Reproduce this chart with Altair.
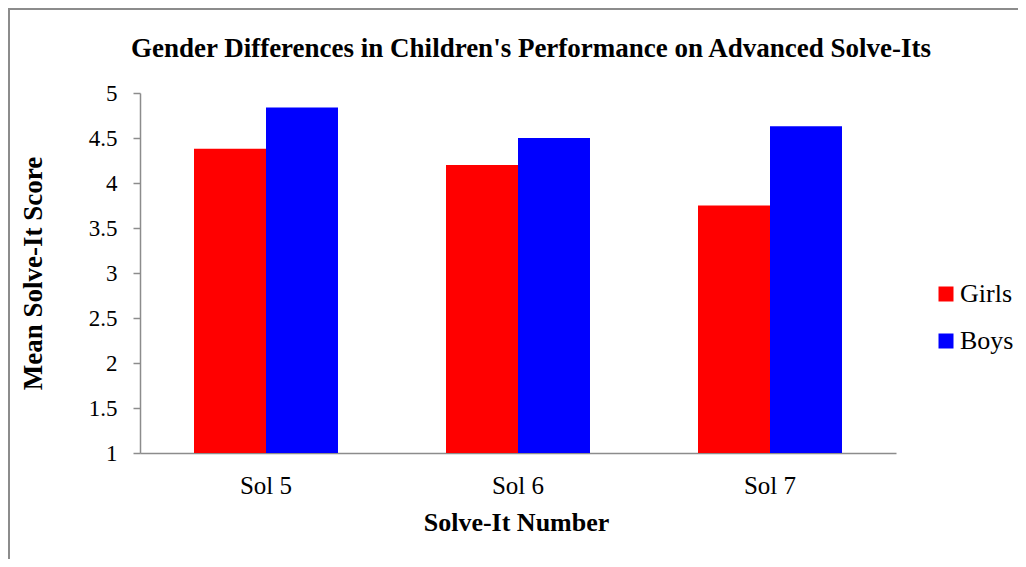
import altair as alt
import pandas as pd

categories = ["Sol 5", "Sol 6", "Sol 7"]
girls = [4.38, 4.20, 3.75]
boys = [4.84, 4.50, 4.63]
groups = ["Girls", "Boys"]
colors = ["#ff0000", "#0000ff"]
y_ticks = [1, 1.5, 2, 2.5, 3, 3.5, 4, 4.5, 5]
title_text = "Gender Differences in Children's Performance on Advanced Solve-Its"

rows = []
for c, g, b in zip(categories, girls, boys):
    rows.append({"cat": c, "grp": "Girls", "val": g})
    rows.append({"cat": c, "grp": "Boys", "val": b})
df = pd.DataFrame(rows)

SERIF = "Liberation Serif"
GRAY = "#8c8c8c"

bars = alt.Chart(df).mark_bar().encode(
    x=alt.X("cat:N", sort=categories,
            scale=alt.Scale(paddingInner=0.4286, paddingOuter=0.2143),
            axis=alt.Axis(title="Solve-It Number", labelAngle=0, ticks=False,
                          domainColor=GRAY, domainWidth=1.5,
                          labelFont=SERIF, labelFontSize=25, labelColor="#000",
                          labelPadding=20,
                          titleFont=SERIF, titleFontSize=26, titleFontWeight="bold",
                          titleColor="#000", titleX=376, titleY=77,
                          titleBaseline="alphabetic")),
    xOffset=alt.XOffset("grp:N", sort=groups),
    y=alt.Y("val:Q", scale=alt.Scale(domain=[1, 5], zero=False, nice=False),
            axis=alt.Axis(title="Mean Solve-It Score", values=y_ticks, grid=False,
                          format="~g",
                          domainColor=GRAY, domainWidth=1.5, tickColor=GRAY,
                          tickWidth=1.5, tickSize=7,
                          labelFont=SERIF, labelFontSize=23, labelColor="#000",
                          labelPadding=16,
                          titleFont=SERIF, titleFontSize=27, titleFontWeight="bold",
                          titleColor="#000", titleAngle=-90, titleX=-107,
                          titleY=180, titleBaseline="middle", titleAlign="center")),
    y2=alt.datum(1),
    color=alt.Color("grp:N", sort=groups,
                    scale=alt.Scale(domain=groups, range=colors),
                    legend=alt.Legend(title=None, orient="none", legendX=793,
                                      legendY=188, symbolType="square",
                                      symbolSize=225, symbolStrokeWidth=0,
                                      labelFont=SERIF, labelFontSize=26,
                                      labelColor="#000", rowPadding=21,
                                      labelOffset=1)),
)

one = pd.DataFrame({"t": [title_text]})

frame = alt.Chart(one).mark_rect(
    fill=None, stroke=GRAY, strokeWidth=2
).encode(x=alt.value(-131), x2=alt.value(885), y=alt.value(-84), y2=alt.value(600))

title = alt.Chart(one).mark_text(
    font=SERIF, fontSize=27, fontWeight="bold", color="#000",
    align="center", baseline="alphabetic"
).encode(text="t:N", x=alt.value(391), y=alt.value(-36))

chart = alt.layer(frame, title, bars).properties(
    width=756, height=360,
    autosize=alt.AutoSizeParams(type="none"),
    padding={"left": 132, "top": 85, "right": 122, "bottom": 106},
).configure_view(stroke=None)

chart.save("out.html", embed_options={"renderer": "svg", "actions": False})
